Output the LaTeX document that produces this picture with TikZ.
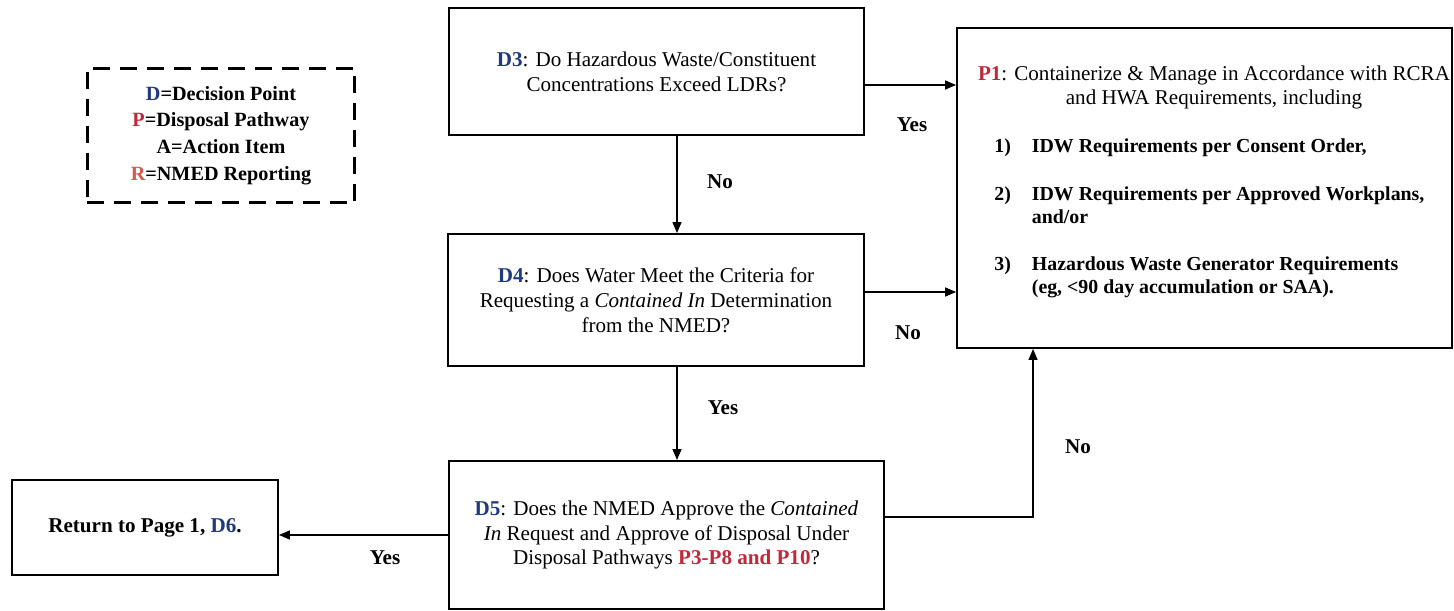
\documentclass[tikz,border=0pt]{standalone}
\usepackage{fontspec}
\setmainfont{Liberation Serif}
\usetikzlibrary{arrows.meta}
\definecolor{dblue}{HTML}{1F3A80}
\definecolor{pred}{HTML}{C0283C}
\definecolor{rred}{HTML}{D9574A}
\newcommand{\dcode}[1]{\textcolor{dblue}{\textbf{#1}}}
\newcommand{\pcode}[1]{\textcolor{pred}{\textbf{#1}}}
\begin{document}
\begin{tikzpicture}[x=0.02cm,y=-0.02cm,
	box/.style={draw,line width=1.1pt,align=center,font=\fontsize{12}{14.2}\selectfont},
	arr/.style={-{Triangle[length=2.2mm,width=1.8mm]},line width=0.8pt},
	lbl/.style={font=\fontsize{12}{14}\selectfont\bfseries}]
	\useasboundingbox (0,0) rectangle (1454,611);
	% legend
	\node [draw,dash pattern=on 0.34cm off 0.2cm,line width=1.7pt,minimum width=5.36cm,minimum height=2.7cm,align=center,font=\fontsize{11.5}{15.2}\selectfont\bfseries] (legend) at (221,135.5) {\textcolor{dblue}{D}=Decision Point\\ \textcolor{pred}{P}=Disposal Pathway\\ A=Action Item\\ \textcolor{rred}{R}=NMED Reporting};
	% boxes
	\node [box,minimum width=8.3cm,minimum height=2.54cm] (d3) at (656.5,71.5) {\dcode{D3}: Do Hazardous Waste/Constituent\\ Concentrations Exceed LDRs?};
	\node [box,minimum width=8.32cm,minimum height=2.64cm] (d4) at (656,300) {\dcode{D4}: Does Water Meet the Criteria for\\ Requesting a \textit{Contained In} Determination\\ from the NMED?};
	\node [box,minimum width=8.7cm,minimum height=2.96cm] (d5) at (666.5,535) {\dcode{D5}: Does the NMED Approve the \textit{Contained}\\ \textit{In} Request and Approve of Disposal Under\\ Disposal Pathways \pcode{P3-P8 and P10}?};
	\node [box,minimum width=5.32cm,minimum height=1.9cm,font=\fontsize{12}{14}\selectfont\bfseries] (ret) at (145,527.5) {Return to Page 1, \textcolor{dblue}{D6}.};
	\node [box,minimum width=9.9cm,minimum height=6.4cm] (p1) at (1204.5,188) {};
	\node [anchor=north,inner sep=0pt,align=center,font=\fontsize{12}{14.2}\selectfont] (p1head) at ([xshift=0.19cm,yshift=-0.76cm]p1.north) {\pcode{P1}: Containerize \& Manage in Accordance with RCRA\\ and HWA Requirements, including};
	\node [anchor=north west,inner sep=0pt,align=left,font=\fontsize{11.3}{13}\selectfont\bfseries] (p1list) at (994,136) {\begin{tabular}{@{}r@{\hspace{0.42cm}}l@{}}
		1) & IDW Requirements per Consent Order,\\[0.5cm]
		2) & IDW Requirements per Approved Workplans,\\
		   & and/or\\[0.5cm]
		3) & Hazardous Waste Generator Requirements\\
		   & (eg, <90 day accumulation or SAA).
	\end{tabular}};
	% connectors
	\coordinate (d3out) at ([yshift=-0.27cm]d3.east);
	\draw [arr] (d3out) -- (d3out -| p1.west);
	\coordinate (d3down) at ([xshift=0.41cm]d3.south);
	\draw [arr] (d3down) -- (d3down |- d4.north);
	\coordinate (d4out) at ([yshift=0.16cm]d4.east);
	\draw [arr] (d4out) -- (d4out -| p1.west);
	\coordinate (d4down) at ([xshift=0.42cm]d4.south);
	\draw [arr] (d4down) -- (d4down |- d5.north);
	\draw [arr] (d5.west) -- (d5.west -| ret.east);
	\coordinate (d5out) at ([yshift=0.36cm]d5.east);
	\coordinate (p1in) at ([xshift=-3.43cm]p1.south);
	\draw [arr] (d5out) -| (p1in);
	% labels
	\node [lbl] (yes1) at (912,125) {Yes};
	\node [lbl] (no1) at (720,182) {No};
	\node [lbl] (no2) at (908,333) {No};
	\node [lbl] (yes2) at (723,408) {Yes};
	\node [lbl] (no3) at (1078,447) {No};
	\node [lbl] (yes3) at (385,558) {Yes};
\end{tikzpicture}
\end{document}
